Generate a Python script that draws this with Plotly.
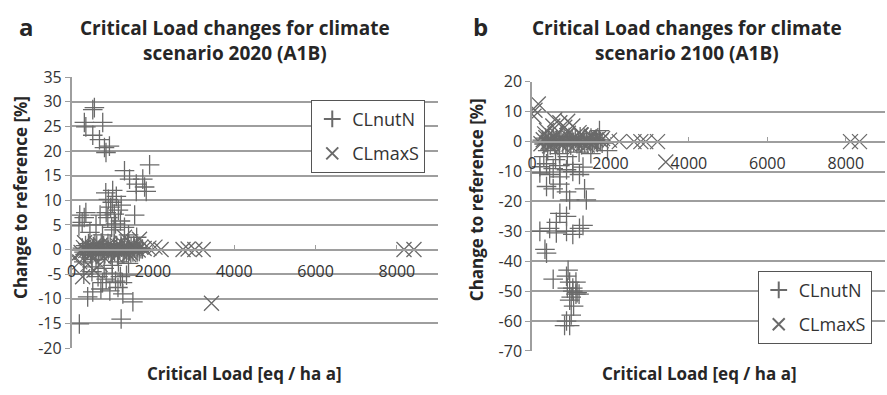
import plotly.graph_objects as go

W, H = 887, 395

# ---------------- Data ----------------
a_nutN_x = [560, 520, 313, 350, 765, 520, 685, 808, 930, 845,
            1300, 1918, 1425, 1750, 1590, 1795, 1590, 1835,
            840, 905, 1000, 1100, 960, 1150, 1050, 1220, 1010, 890, 1080, 985, 1045,
            200, 310, 260, 180, 350, 700, 850, 1550, 1200, 1300, 600, 450, 760, 1400, 1600,
            190, 1218, 1507, 395, 520, 720, 940, 1140, 1260, 760, 1080, 1250, 300, 500,
            650, 850, 1000, 1200, 1350, 500, 800, 1000, 1150, 1400, 600, 300,
            265, 305, 342, 388, 417, 463, 508, 536, 587, 618, 667, 703, 744, 788, 815, 867,
            902, 948, 983, 1027, 1058, 1109, 1143, 1186, 1224, 1268, 1302, 1347, 1389, 1426,
            1463, 1508, 1547, 1583, 1626, 1664, 1705, 1742, 332, 414, 487, 573, 655, 728,
            812, 894, 967, 1053, 1128, 1214, 1287, 1372, 1455, 1528, 1612]
a_nutN_y = [28.8, 28.4, 25.8, 24.9, 25.8, 23.2, 22.3, 20.7, 21.0, 19.7,
            16.0, 17.2, 14.3, 14.3, 13.3, 12.7, 11.8, 11.8,
            11.5, 10.2, 9.6, 10.8, 8.6, 8.0, 7.2, 9.0, 12.0, 6.5, 5.2, 4.5, 4.0,
            7.0, 6.5, 5.5, 4.8, 7.5, 7.0, 7.5, 7.0, 5.8, 4.5, 5.0, 3.5, 3.0, 3.0, 2.5,
            -15.1, -14.1, -10.6, -9.6, -8.6, -8.0, -8.4, -7.7, -9.0, -6.7, -6.4, -6.7, -5.0, -4.5,
            -5.5, -6.0, -4.8, -5.5, -5.2, -3.5, -3.8, -3.2, -2.5, -2.8, -2.0, -2.5,
            0.3, -0.5, 0.8, -0.2, 0.5, -0.9, 0.1, 0.6, -0.4, 0.9, -0.7, 0.2, -0.3, 0.7, -0.8, 0.4,
            -0.1, 1.0, -0.6, 0.3, -0.4, 0.8, -0.9, 0.1, 0.5, -0.2, 0.7, -0.6, 0.2, -0.3,
            0.6, -0.5, 0.3, -0.1, 0.4, -0.4, 0.2, 0.1, -1.0, 1.2, -1.1, 1.1, -1.2, 1.3,
            -0.9, 1.2, -1.0, 1.1, -1.1, 0.9, -0.8, 1.0, -0.7, 0.8, -0.5]

a_maxS_x = [1670, 2200, 2740, 2865, 3030, 3235, 3440, 65, 8175, 8420,
            270, 400, 550, 700, 200, 1300, 1500, 1900, 2050,
            232, 291, 348, 403, 468, 522, 588, 641, 709, 762, 828, 883, 951, 1012,
            1068, 1131, 1192, 1253, 1318, 1381, 1442, 1509, 1571, 1638, 1702, 1784,
            318, 452, 607, 781, 923, 1087, 1243, 1402]
a_maxS_y = [2.1, 0.0, 0.0, 0.1, 0.0, 0.0, -10.9, -1.7, 0.0, 0.0,
            -5.5, -3.0, -4.2, -3.0, -2.5, 2.5, 1.0, 0.3, 0.5,
            -0.6, 0.4, -0.2, 0.7, -0.8, 0.2, 0.5, -0.4, 0.9, -0.1, 0.3, -0.7, 0.6, -0.3,
            0.1, 0.8, -0.5, 0.4, -0.2, 0.6, -0.6, 0.2, 0.3, -0.1, 0.5, 0.2,
            1.4, -1.3, 1.2, -1.4, 1.1, -1.2, 1.3, -1.0]

b_nutN_x = [1720, 1640, 1925, 200, 370, 540, 710, 880, 1040, 1300,
            200, 450, 710, 1040, 1210, 370, 540, 710, 880, 1340, 1385, 960,
            710, 880, 620, 200, 450, 620, 880, 1040, 1210, 1300, 370, 330,
            540, 880, 920, 960, 1040, 1120, 1000, 960, 1040, 1150, 900,
            880, 830, 960, 1000, 1120, 1200, 1060,
            400, 700, 900, 1200, 1500, 600, 300,
            262, 308, 347, 384, 421, 466, 503, 541, 583, 624, 662, 706, 741, 785, 818, 864,
            906, 943, 988, 1024, 1063, 1104, 1147, 1183, 1227, 1262, 1306, 1344, 1386, 1423,
            1467, 1504, 1541, 1586, 1623, 1668, 1702, 1747, 1788]
b_nutN_y = [3.7, 0.0, -3.0, -8.4, -7.4, -9.0, -8.0, -9.4, -7.6, -8.5,
            -10.5, -11.0, -11.8, -10.0, -11.0, -15.0, -15.8, -14.2, -16.8, -15.8, -19.5, -19.5,
            -24.0, -25.0, -27.0, -30.0, -29.0, -30.5, -30.0, -31.0, -29.0, -28.0, -37.3, -36.0,
            -46.0, -45.0, -43.0, -47.0, -49.0, -51.0, -52.0, -53.0, -50.0, -50.5, -49.0,
            -60.0, -61.5, -61.5, -58.0, -47.0, -51.0, -55.0,
            -3.0, -4.0, -5.0, -3.5, -4.0, -6.0, -5.0,
            0.5, -0.8, 1.2, -0.3, 0.9, -1.1, 0.2, 1.5, -0.6, 0.7, -1.3, 0.4, 1.8, -0.5, 0.9, -0.9,
            0.3, 1.4, -1.2, 0.6, -0.2, 1.1, -0.7, 0.2, 1.6, -1.0, 0.5, -0.4, 1.0, -0.8,
            0.4, 1.2, -0.6, 0.3, 0.8, -0.3, 0.6, 0.1, -0.5]

b_maxS_x = [160, 76, 50, 580, 710, 910, 530, 835, 1040, 370,
            1975, 2225, 2600, 2775, 2900, 3200, 3410, 8120, 8350,
            1200, 1500, 1800,
            228, 286, 352, 407, 463, 528, 583, 646, 702, 768, 824, 887, 943, 1008,
            1072, 1127, 1188, 1256, 1311, 1384, 1437, 1505, 1566, 1633, 1694, 1762,
            323, 448, 612, 774, 927, 1093, 1238, 1406]
b_maxS_y = [12.6, 10.5, 8.5, 7.3, 6.3, 6.8, 5.2, 4.8, 5.2, 3.7,
            0.5, 0.0, 0.0, 0.0, 0.0, 0.0, -6.8, 0.0, 0.0,
            3.0, 2.0, 1.0,
            -0.7, 0.6, 1.3, -0.2, 0.9, -1.0, 1.6, 0.3, -0.5, 1.1, 0.0, 2.0, -0.8, 0.7,
            1.4, -0.3, 0.5, 2.2, -0.6, 0.9, 0.2, 1.5, -0.4, 0.6, 1.0, 0.3,
            2.6, -1.4, 2.4, -1.2, 2.8, -1.0, 2.3, -1.1]

series_names = ["CLnutN", "CLmaxS"]
a_y_ticks = [35, 30, 25, 20, 15, 10, 5, 0, -5, -10, -15, -20]
b_y_ticks = [20, 10, 0, -10, -20, -30, -40, -50, -60, -70]
x_ticks = [0, 2000, 4000, 6000, 8000]

FONT = "Open Sans"
TXT = "#333333"
MK = "#6a6a6a"
GRID = "#9e9e9e"

def px_x(p):
    return p / W

def px_y(p):
    return 1 - p / H

a_dom_x = [px_x(67), px_x(435)]
a_dom_y = [px_y(357), px_y(70)]
b_dom_x = [px_x(530), px_x(885)]
b_dom_y = [px_y(360), px_y(75)]
a_yr = [-20, 35]
b_yr = [-70, 20]

def zero_pos(dom, yr):
    return dom[0] + (0 - yr[0]) / (yr[1] - yr[0]) * (dom[1] - dom[0])

fig = go.Figure()
plus = dict(symbol="cross-thin", size=14, color=MK, line=dict(width=1.3, color=MK))
cross = dict(symbol="x-thin", size=15, color=MK, line=dict(width=1.3, color=MK))

fig.add_trace(go.Scatter(x=a_nutN_x, y=a_nutN_y, mode="markers", marker=plus,
                         name=series_names[0], xaxis="x", yaxis="y", legend="legend", legendgroup="a1"))
fig.add_trace(go.Scatter(x=a_maxS_x, y=a_maxS_y, mode="markers", marker=cross,
                         name=series_names[1], xaxis="x", yaxis="y", legend="legend", legendgroup="a2"))
fig.add_trace(go.Scatter(x=b_nutN_x, y=b_nutN_y, mode="markers", marker=plus,
                         name=series_names[0], xaxis="x2", yaxis="y2", legend="legend2", legendgroup="b1"))
fig.add_trace(go.Scatter(x=b_maxS_x, y=b_maxS_y, mode="markers", marker=cross,
                         name=series_names[1], xaxis="x2", yaxis="y2", legend="legend2", legendgroup="b2"))

def xaxis_cfg(dom, pos):
    return dict(domain=dom, range=[0, 9000], tickvals=x_ticks, ticktext=[str(v) for v in x_ticks],
                anchor="free", position=pos, showgrid=False, zeroline=False, showline=True,
                linecolor=GRID, linewidth=1.5, ticks="inside", ticklen=4, tickcolor=GRID,
                ticklabelstandoff=7, tickfont=dict(family=FONT, size=16, color=TXT))

def yaxis_cfg(dom, yr, ticks, anchor_x):
    return dict(domain=dom, range=yr, tickvals=ticks, ticktext=[str(v) for v in ticks],
                anchor=anchor_x, showgrid=True, gridcolor=GRID, gridwidth=1.5,
                zeroline=False, showline=True, linecolor=GRID, linewidth=1.5,
                ticks="outside", ticklen=5, tickcolor=GRID,
                tickfont=dict(family=FONT, size=16, color=TXT))

legend_common = dict(bgcolor="white", bordercolor="#555555", borderwidth=1,
                     font=dict(family=FONT, size=18, color=TXT),
                     xanchor="left", yanchor="top", tracegroupgap=8, itemsizing="constant")

fig.update_layout(
    width=W, height=H, margin=dict(l=0, r=0, t=0, b=0),
    paper_bgcolor="white", plot_bgcolor="white",
    xaxis=xaxis_cfg(a_dom_x, zero_pos(a_dom_y, a_yr)),
    xaxis2=xaxis_cfg(b_dom_x, zero_pos(b_dom_y, b_yr)),
    yaxis=yaxis_cfg(a_dom_y, a_yr, a_y_ticks, "x"),
    yaxis2=yaxis_cfg(b_dom_y, b_yr, b_y_ticks, "x2"),
    showlegend=True,
    legend=dict(x=px_x(308), y=px_y(94), **legend_common),
    legend2=dict(x=px_x(757), y=px_y(275), **legend_common),
)

ann = []
def text(x, y, s, size, angle=0):
    ann.append(dict(x=px_x(x), y=px_y(y), xref="paper", yref="paper", text=s,
                    showarrow=False, textangle=angle, xanchor="center", yanchor="middle",
                    font=dict(family=FONT, size=size, color="#262626")))

text(231, 31, "<b>Critical Load changes for climate<br>scenario 2020 (A1B)</b>", 19)
text(686, 31, "<b>Critical Load changes for climate<br>scenario 2100 (A1B)</b>", 19)
text(22, 16, "<b>a</b>", 24)
text(478, 16, "<b>b</b>", 24)
text(15, 197, "<b>Change to reference [%]</b>", 17, angle=-90)
text(475, 200, "<b>Change to reference [%]</b>", 17, angle=-90)
text(241, 384, "<b>Critical Load [eq / ha a]</b>", 17)
text(698, 384, "<b>Critical Load [eq / ha a]</b>", 17)
fig.update_layout(annotations=ann)

fig.write_html("out.html")
